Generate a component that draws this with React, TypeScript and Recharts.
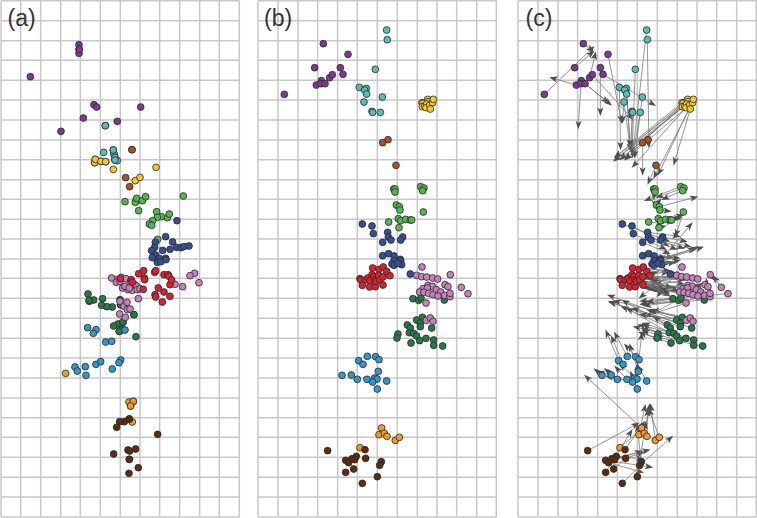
import React from "react";
import { ScatterChart, Scatter, XAxis, YAxis, CartesianGrid, ReferenceLine } from "recharts";

type P = [number, number];

const purpleA: P[] = [[237,134],[237,148],[237,160],[238,148],[352,364],[250,354],[422,321],[316,377],[282,314],[91,230],[183,394],[290,321]];
const purpleB: P[] = [[89,283],[180,203],[206,131],[225,233],[233,224],[257,203],[265,223],[280,163],[200,242],[185,255],[199,251],[211,251]];
const tealA: P[] = [[345,480],[396,449],[345,472],[311,457],[340,450],[316,377],[342,462],[352,482],[342,462],[345,472],[340,450],[345,480]];
const tealB: P[] = [[396,90],[398,119],[362,208],[314,262],[335,265],[330,270],[336,282],[383,291],[328,306],[352,334],[354,337],[377,337]];
const yellowA: P[] = [[286,478],[284,488],[303,484],[317,485],[284,488],[286,478],[303,484],[340,508],[317,485],[406,542],[420,532],[468,502]];
const yellowB: P[] = [[502,308],[505,310],[503,320],[519,298],[510,318],[520,305],[516,312],[514,323],[525,315],[534,308],[536,298],[527,327]];
const brownA: P[] = [[396,449],[377,533],[389,560]];
const brownB: P[] = [[400,419],[384,428],[424,496]];
const limeA: P[] = [[416,632],[408,603],[406,607],[375,605],[410,595],[427,602],[437,590],[550,588],[470,635],[473,718],[502,653],[484,650],[508,642],[472,652],[458,662],[448,672],[455,676]];
const limeB: P[] = [[417,567],[421,567],[421,576],[498,560],[508,564],[504,572],[425,615],[434,620],[436,630],[506,636],[431,656],[438,662],[453,658],[467,660],[471,660],[402,666],[433,683]];
const navyA: P[] = [[466,727],[464,742],[455,752],[497,710],[510,748],[488,751],[467,765],[518,726],[530,742],[457,773],[478,775],[497,775],[543,743],[551,740],[567,738],[472,787],[483,785],[498,779],[360,899],[531,662]];
const navyB: P[] = [[323,672],[352,678],[356,701],[399,697],[401,711],[409,720],[384,727],[444,711],[438,720],[384,767],[402,761],[418,768],[437,778],[418,782],[438,782],[412,792],[441,794],[418,796],[467,822],[430,790]];
const forestA: P[] = [[362,914],[362,914],[402,944],[362,914],[264,882],[281,900],[268,904],[267,901],[308,896],[305,916],[337,921],[321,920],[355,972],[341,978],[369,966],[358,994],[365,984],[367,989],[358,994],[369,966],[402,944],[408,1010]];
const forestB: P[] = [[475,896],[492,901],[499,894],[569,900],[486,960],[503,952],[497,969],[497,980],[458,975],[467,984],[531,984],[464,998],[477,1000],[486,1008],[430,1002],[427,1014],[514,1015],[495,1022],[469,1029],[537,1020],[537,1036],[564,1038]];
const pinkA: P[] = [[415,896],[597,848],[350,839],[364,832],[378,836],[392,844],[405,854],[376,952],[584,820],[360,904],[548,860],[525,853],[368,864],[384,869],[335,834],[349,847],[397,871],[410,859],[360,844],[375,859],[388,864],[412,869],[420,866],[570,827],[372,919],[381,907],[359,942],[382,929],[390,927]];
const pinkB: P[] = [[502,801],[587,824],[486,826],[501,830],[516,831],[534,834],[549,837],[514,909],[620,862],[640,881],[571,854],[580,860],[520,856],[533,859],[505,866],[518,864],[545,869],[558,876],[495,876],[508,877],[522,880],[535,884],[550,888],[570,886],[586,890],[586,880],[515,961],[527,954],[535,964]];
const redA: P[] = [[361,836],[394,839],[397,847],[416,821],[430,868],[431,812],[433,834],[434,839],[464,817],[467,812],[465,884],[467,891],[475,864],[492,824],[492,876],[487,906],[504,824],[507,829],[510,854],[510,889],[515,840]];
const redB: P[] = [[316,836],[318,839],[332,840],[340,834],[346,842],[323,856],[345,861],[362,860],[352,824],[354,804],[358,829],[361,840],[365,844],[373,808],[372,826],[375,840],[385,855],[386,801],[385,831],[396,814],[406,827]];
const blueA: P[] = [[288,989],[317,1026],[375,990],[263,983],[280,1000],[335,1024],[225,1101],[232,1113],[256,1100],[288,1093],[302,1085],[362,1080],[258,1126],[357,1088],[337,1107]];
const blueB: P[] = [[338,1069],[363,1070],[373,1079],[312,1082],[325,1093],[371,1114],[262,1126],[290,1125],[308,1138],[337,1138],[360,1134],[367,1137],[354,1146],[396,1143],[368,1167]];
const orangeA: P[] = [[197,1120],[387,1206],[400,1204],[392,1218],[400,1204],[392,1218],[397,1266]];
const orangeB: P[] = [[381,1284],[373,1304],[389,1300],[397,1309],[422,1321],[434,1312],[316,1343]];
const umberA: P[] = [[373,1265],[415,1403],[387,1420],[407,1347],[388,1378],[384,1350],[388,1257],[389,1353],[359,1265],[473,1303],[341,1362],[350,1282],[388,1257],[388,1378]];
const umberB: P[] = [[219,1352],[273,1381],[282,1388],[292,1376],[305,1369],[300,1379],[331,1349],[333,1375],[380,1385],[375,1396],[297,1407],[273,1417],[368,1430],[323,1450]];

const clusters = [
  { name: "purple", color: "#7b3a8e", a: purpleA, b: purpleB },
  { name: "teal", color: "#5cbcb0", a: tealA, b: tealB },
  { name: "yellow", color: "#f3c823", a: yellowA, b: yellowB },
  { name: "brown", color: "#a6522c", a: brownA, b: brownB },
  { name: "lime", color: "#55b550", a: limeA, b: limeB },
  { name: "navy", color: "#35508f", a: navyA, b: navyB },
  { name: "forest", color: "#27794a", a: forestA, b: forestB },
  { name: "pink", color: "#c581b9", a: pinkA, b: pinkB },
  { name: "red", color: "#d8232f", a: redA, b: redB },
  { name: "blue", color: "#3398c9", a: blueA, b: blueB },
  { name: "orange", color: "#f09a2a", a: orangeA, b: orangeB },
  { name: "umber", color: "#5b2d0d", a: umberA, b: umberB },
];

const xGridA = [3,62,122,182,241,301,361,420,479,539,599,658,718];
const xGridB = [10,70,130,189,249,308,368,428,488,547,606,666,725];
const yGrid = [2,62,122,181,241,300,360,420,479,539,598,658,717,777,835,895,955,1015,1074,1134,1194,1253,1312,1372,1432,1491,1551];
const PANEL_SHIFT = xGridB[0] - xGridA[0];

const Dot = (props: any) => (
  <circle cx={props.cx} cy={props.cy} r={3.4} fill={props.fill} stroke="#2a2a2a" strokeWidth={0.8} />
);

const Arrow = (props: any) => {
  const { x1, y1, x2, y2 } = props;
  const dx = x2 - x1;
  const dy = y2 - y1;
  const len = Math.hypot(dx, dy) || 1;
  const ux = dx / len;
  const uy = dy / len;
  const tx = x2 - ux * 2;
  const ty = y2 - uy * 2;
  const bx = tx - ux * 8.5;
  const by = ty - uy * 8.5;
  const nx = tx - ux * 6.5;
  const ny = ty - uy * 6.5;
  const pts = `${tx},${ty} ${bx - uy * 3.1},${by + ux * 3.1} ${nx},${ny} ${bx + uy * 3.1},${by - ux * 3.1}`;
  return (
    <g>
      <line x1={x1} y1={y1} x2={nx} y2={ny} stroke="#747474" strokeWidth={0.75} />
      <polygon points={pts} fill="#4f4f4f" />
    </g>
  );
};

type PanelProps = { left: number; title: string; titleX: number; xDomain: number[]; xGrid: number[]; which: "a" | "b"; arrows?: boolean };

const Panel = ({ left, title, titleX, xDomain, xGrid, which, arrows }: PanelProps) => (
  <div style={{ position: "absolute", left, top: 0 }}>
    <ScatterChart width={241} height={518} margin={{ top: 0.7, right: 1.7, bottom: 1, left: 1 }}>
      <XAxis type="number" dataKey="x" domain={xDomain} ticks={xGrid} interval={0} hide allowDataOverflow />
      <YAxis type="number" dataKey="y" domain={[yGrid[0], yGrid[yGrid.length - 1]]} ticks={yGrid} interval={0} reversed hide allowDataOverflow />
      <CartesianGrid stroke="#c8c8c8" strokeWidth={1.5} verticalValues={xGrid} horizontalValues={yGrid} />
      {arrows &&
        clusters.flatMap((c) =>
          c.b.map((p, i) => (
            <ReferenceLine
              key={c.name + i}
              segment={[
                { x: p[0], y: p[1] },
                { x: c.a[i][0] + PANEL_SHIFT, y: c.a[i][1] },
              ]}
              ifOverflow="visible"
              shape={Arrow}
            />
          ))
        )}
      {clusters.map((c) => (
        <Scatter
          key={c.name}
          name={c.name}
          data={c[which].map((p) => ({ x: p[0], y: p[1] }))}
          fill={c.color}
          shape={Dot}
          isAnimationActive={false}
        />
      ))}
      <text x={titleX} y={26} fontFamily="Liberation Sans, Arial, sans-serif" fontSize={23} fill="#333">
        {title}
      </text>
    </ScatterChart>
  </div>
);

export default function App() {
  return (
    <div style={{ position: "absolute", left: 0, top: 0, width: 757, height: 518, background: "#fff", overflow: "hidden" }}>
      <Panel left={0} title="(a)" titleX={7.5} xDomain={[xGridA[0], xGridA[12]]} xGrid={xGridA} which="a" />
      <Panel left={257.3} title="(b)" titleX={7} xDomain={[xGridB[0], xGridB[12]]} xGrid={xGridB} which="b" />
      <Panel left={516.7} title="(c)" titleX={8.5} xDomain={[xGridB[0], xGridB[12]]} xGrid={xGridB} which="b" arrows />
    </div>
  );
}
